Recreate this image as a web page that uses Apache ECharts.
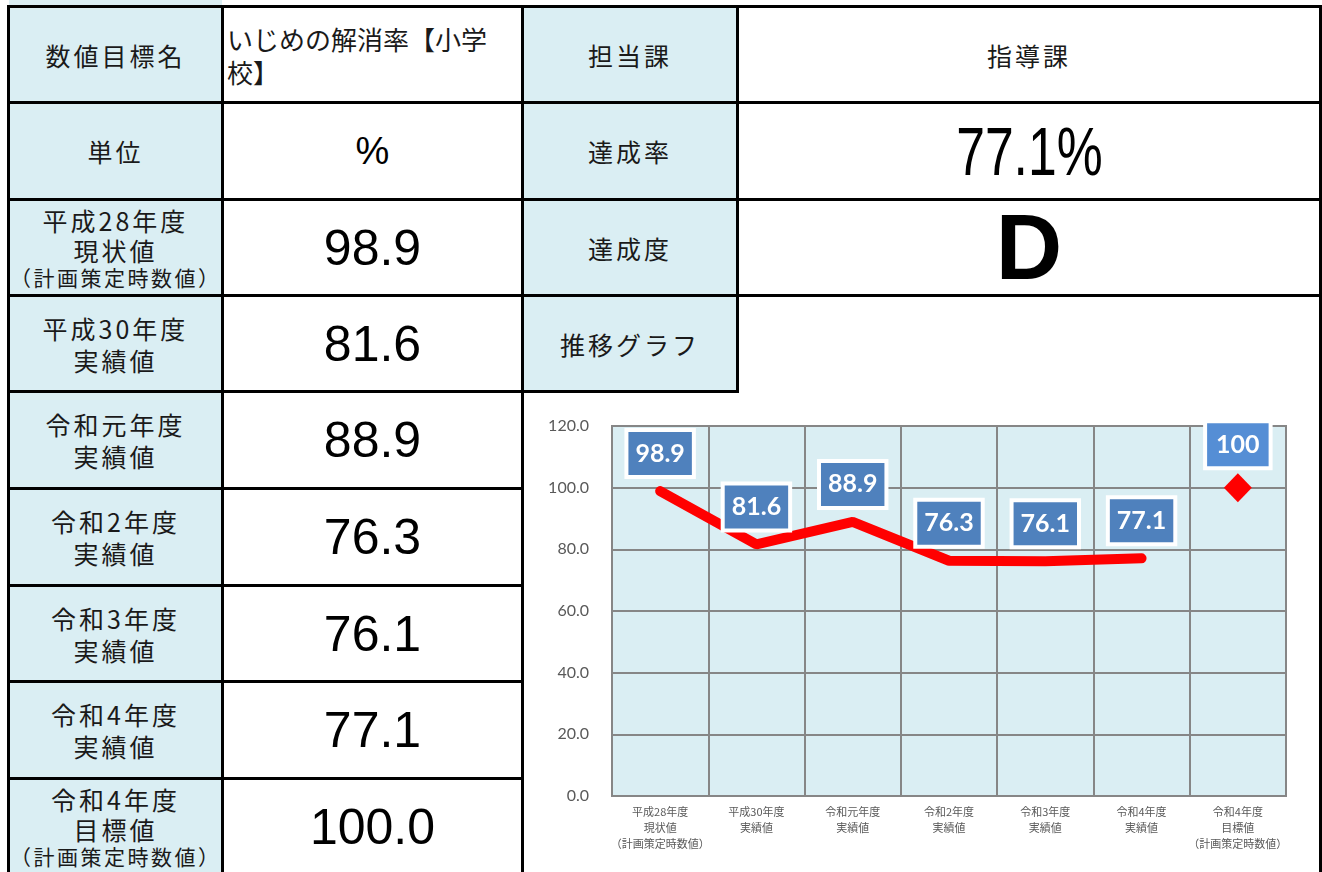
<!DOCTYPE html>
<html lang="ja">
<head>
<meta charset="utf-8">
<title>いじめの解消率【小学校】</title>
<script src="https://cdn.jsdelivr.net/npm/echarts@6/dist/echarts.min.js"></script>
<style>
	html, body {
		margin: 0;
		padding: 0;
		background: #fff;
		width: 1322px;
		height: 872px;
		overflow: hidden;
		position: relative;
	}
	.cell {
		position: absolute;
		box-sizing: border-box;
		border: 3px solid #000;
		display: flex;
		align-items: center;
		justify-content: center;
		text-align: center;
		color: #1a1a1a;
		font-family: "Noto Sans CJK JP", sans-serif;
	}
	.head {
		background: #daeef3;
		font-size: 25px;
		letter-spacing: 3px;
	}
	.head .l {
		display: block;
		line-height: 32px;
	}
	.head.three .l {
		line-height: 30px;
	}
	.head .s {
		display: block;
		font-size: 21px;
		letter-spacing: 2.5px;
		line-height: 25px;
	}
	.num {
		font-family: "Liberation Sans", Arial, sans-serif;
		font-size: 50px;
		color: #000;
	}
	.line {
		position: absolute;
		background: #000;
	}
	#chart {
		position: absolute;
		left: 524px;
		top: 297px;
		width: 795px;
		height: 575px;
	}
</style>
</head>
<body>
<div id="sheet"></div>
<div id="chart"></div>

<script>
	// グラフのデータ
	const categories = [
		'平成28年度\n現状値\n（計画策定時数値）',
		'平成30年度\n実績値',
		'令和元年度\n実績値',
		'令和2年度\n実績値',
		'令和3年度\n実績値',
		'令和4年度\n実績値',
		'令和4年度\n目標値\n（計画策定時数値）'
	]
	const actualValues = [98.9, 81.6, 88.9, 76.3, 76.1, 77.1, null]
	const targetValues = [null, null, null, null, null, null, 100]
	const yTicks = [0, 20, 40, 60, 80, 100, 120]

	// 表のテキスト
	const goalName = 'いじめの解消率【小学<br>校】'
	const unitText = '%'
	const deptName = '指導課'
	const achieveRate = '77.1%'
	const achieveGrade = 'D'

	// 罫線の位置
	const colX = [7, 221, 521, 736, 1319]
	const rowY = [5, 101, 198, 294, 390, 487, 584, 680, 777, 873]

	const sheet = document.getElementById('sheet')

	function addCell(c1, r1, c2, r2, cls, html) {
		const d = document.createElement('div')
		d.className = 'cell ' + cls
		d.style.left = colX[c1] + 'px'
		d.style.top = rowY[r1] + 'px'
		d.style.width = (colX[c2] - colX[c1] + 3) + 'px'
		d.style.height = (rowY[r2] - rowY[r1] + 3) + 'px'
		d.innerHTML = html
		sheet.appendChild(d)
		return d
	}

	function headHtml(text) {
		const parts = text.split('\n')
		return '<div>' + parts.map((p, i) => {
			const small = i === 2
			return '<span class="' + (small ? 's' : 'l') + '">' + p + '</span>'
		}).join('') + '</div>'
	}

	// 上にはみ出ている前の行
	const strip = document.createElement('div')
	strip.style.cssText = 'position:absolute;left:9px;top:0;width:213px;height:6px;background:#daeef3'
	sheet.appendChild(strip)

	addCell(0, 0, 1, 1, 'head', headHtml('数値目標名'))
	const nameCell = addCell(1, 0, 2, 1, '', goalName)
	nameCell.style.justifyContent = 'flex-start'
	nameCell.style.textAlign = 'left'
	nameCell.style.fontSize = '26px'
	nameCell.style.lineHeight = '33px'
	nameCell.style.paddingLeft = '3px'

	addCell(0, 1, 1, 2, 'head', headHtml('単位'))
	const unitCell = addCell(1, 1, 2, 2, 'num', unitText)
	unitCell.style.fontSize = '38px'

	// 年度ごとの行
	const allValues = actualValues.slice(0, 6).concat([targetValues[6]])
	categories.forEach((cat, i) => {
		const three = cat.split('\n').length === 3 ? ' three' : ''
		addCell(0, i + 2, 1, i + 3, 'head' + three, headHtml(cat))
		addCell(1, i + 2, 2, i + 3, 'num', allValues[i].toFixed(1))
	})

	addCell(2, 0, 3, 1, 'head', headHtml('担当課'))
	addCell(3, 0, 4, 1, 'head', headHtml(deptName)).style.background = '#fff'
	addCell(2, 1, 3, 2, 'head', headHtml('達成率'))
	const rateCell = addCell(3, 1, 4, 2, 'num',
		'<span style="display:inline-block;transform:scaleX(0.76)">' + achieveRate + '</span>')
	rateCell.style.fontSize = '68px'
	addCell(2, 2, 3, 3, 'head', headHtml('達成度'))
	const gradeCell = addCell(3, 2, 4, 3, 'num', achieveGrade)
	gradeCell.style.fontSize = '92px'
	gradeCell.style.fontWeight = 'bold'
	addCell(2, 3, 3, 4, 'head', headHtml('推移グラフ'))

	// グラフ部分の右の罫線
	const rightLine = document.createElement('div')
	rightLine.className = 'line'
	rightLine.style.cssText = 'left:1319px;top:294px;width:3px;height:600px'
	sheet.appendChild(rightLine)

	// 折れ線グラフ
	const chart = echarts.init(document.getElementById('chart'))
	const gridColor = '#868686'
	const option = {
		animation: false,
		grid: {
			left: 88,
			right: 33,
			top: 129,
			bottom: 76,
			show: true,
			backgroundColor: '#daeef3',
			borderColor: gridColor,
			borderWidth: 2
		},
		xAxis: {
			type: 'category',
			data: categories,
			axisLine: {
				lineStyle: {
					color: gridColor,
					width: 2
				}
			},
			axisTick: {
				show: false
			},
			splitLine: {
				show: true,
				lineStyle: {
					color: gridColor,
					width: 2
				}
			},
			axisLabel: {
				interval: 0,
				margin: 8,
				fontSize: 11,
				lineHeight: 16,
				color: '#595959',
				fontFamily: 'Noto Sans CJK JP'
			}
		},
		yAxis: {
			type: 'value',
			min: yTicks[0],
			max: yTicks[yTicks.length - 1],
			interval: yTicks[1] - yTicks[0],
			axisLine: {
				show: false
			},
			axisTick: {
				show: false
			},
			splitLine: {
				lineStyle: {
					color: gridColor,
					width: 2
				}
			},
			axisLabel: {
				margin: 23,
				fontSize: 16,
				color: '#595959',
				fontFamily: 'Lato',
				formatter: v => v.toFixed(1)
			}
		},
		series: [{
				name: '実績値',
				type: 'line',
				data: actualValues,
				symbol: 'circle',
				symbolSize: 2,
				itemStyle: {
					color: '#ff0000'
				},
				lineStyle: {
					color: '#ff0000',
					width: 10,
					cap: 'round'
				},
				label: {
					show: true,
					position: 'top',
					distance: 15,
					color: '#fff',
					fontFamily: 'Lato',
					fontWeight: 'bold',
					fontSize: 25,
					lineHeight: 27,
					backgroundColor: '#4f81bd',
					borderColor: '#fff',
					borderWidth: 4,
					padding: [8, 7, 8, 7]
				}
			},
			{
				name: '目標値',
				type: 'line',
				data: targetValues,
				symbol: 'diamond',
				symbolSize: [28, 29],
				itemStyle: {
					color: '#ff0000'
				},
				lineStyle: {
					width: 0
				},
				label: {
					show: true,
					position: 'top',
					distance: 7,
					color: '#fff',
					fontFamily: 'Lato',
					fontWeight: 'bold',
					fontSize: 25,
					lineHeight: 27,
					backgroundColor: '#558ed5',
					borderColor: '#fff',
					borderWidth: 4,
					padding: [8, 9, 8, 9]
				}
			}
		]
	}
	chart.setOption(option)
</script>
</body>
</html>
